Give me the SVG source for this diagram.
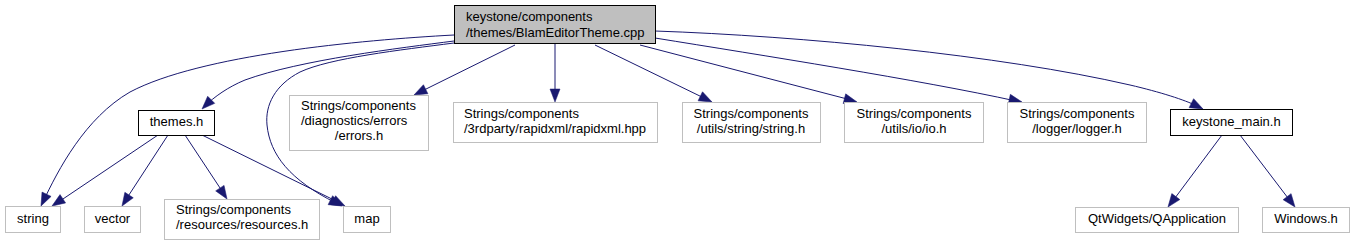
<svg xmlns="http://www.w3.org/2000/svg" xmlns:xlink="http://www.w3.org/1999/xlink" width="1355" height="245" viewBox="0 0 1355 245">
<style>
.n{fill:#ffffff;stroke:#bfbfbf;stroke-width:1}
.k{fill:#ffffff;stroke:#000000;stroke-width:1}
.r{fill:#bfbfbf;stroke:#000000;stroke-width:1}
text{font-family:"Liberation Sans",Arial,sans-serif;font-size:13px;fill:#000000}
.m{text-anchor:middle}
.e path{fill:none;stroke:#191970;stroke-width:1}
.e use{fill:#191970;stroke:#191970;stroke-width:0.5}
</style>
<defs>
<path id="ah" d="M0,0 L-13,-5 L-13,5 z"/>
</defs>
<rect x="0" y="0" width="1355" height="245" fill="#ffffff"/>
<g class="e" id="edges">
<path d="M454,35 C360,40 200,55 130,92 C85,118 58,170 43,202"/>
<use xlink:href="#ah" href="#ah" transform="translate(41,206) rotate(115.3)"/>
<path d="M454,41 C400,48 300,60 245,80 C228,87 214,97 205,106"/>
<use xlink:href="#ah" href="#ah" transform="translate(202,109) rotate(135)"/>
<path d="M454,43 C400,50 330,58 300,72 C275,85 265,105 267,125 C270,155 290,180 336,203"/>
<use xlink:href="#ah" href="#ah" transform="translate(342,206) rotate(26.6)"/>
<path d="M515,45 L420,92"/>
<use xlink:href="#ah" href="#ah" transform="translate(414,95) rotate(153.7)"/>
<path d="M555,43 L555,96"/>
<use xlink:href="#ah" href="#ah" transform="translate(555,102) rotate(90)"/>
<path d="M595,45 L706,99"/>
<use xlink:href="#ah" href="#ah" transform="translate(712,102) rotate(26)"/>
<path d="M640,45 L851,100"/>
<use xlink:href="#ah" href="#ah" transform="translate(857,102) rotate(14.7)"/>
<path d="M655,38 C760,55 920,80 1016,101"/>
<use xlink:href="#ah" href="#ah" transform="translate(1022,102) rotate(12.2)"/>
<path d="M655,31 C800,36 1000,55 1130,85 C1160,92 1185,100 1197,106"/>
<use xlink:href="#ah" href="#ah" transform="translate(1203,109) rotate(26.6)"/>
<path d="M158,135 L57,203"/>
<use xlink:href="#ah" href="#ah" transform="translate(52,206) rotate(146.2)"/>
<path d="M168,135 L125,201"/>
<use xlink:href="#ah" href="#ah" transform="translate(122,206) rotate(122.9)"/>
<path d="M185,135 L224,194"/>
<use xlink:href="#ah" href="#ah" transform="translate(227,199) rotate(56.7)"/>
<path d="M202,135 L340,203"/>
<use xlink:href="#ah" href="#ah" transform="translate(345,206) rotate(26.4)"/>
<path d="M1222,135 L1172,202"/>
<use xlink:href="#ah" href="#ah" transform="translate(1168,207) rotate(126.9)"/>
<path d="M1240,135 L1291,202"/>
<use xlink:href="#ah" href="#ah" transform="translate(1295,207) rotate(52.6)"/>
</g>
<g id="root">
<rect class="r" x="454.5" y="5.5" width="201" height="38"/>
<text x="466" y="21">keystone/components</text>
<text x="466" y="37">/themes/BlamEditorTheme.cpp</text>
</g>
<g id="themes_h">
<rect class="k" x="138.5" y="110.5" width="76" height="25"/>
<text class="m" x="176.5" y="126">themes.h</text>
</g>
<g id="errors_h">
<rect class="n" x="289.5" y="95.5" width="139" height="55"/>
<text x="301" y="110">Strings/components</text>
<text x="301" y="125">/diagnostics/errors</text>
<text class="m" x="359" y="140">/errors.h</text>
</g>
<g id="rapidxml_hpp">
<rect class="n" x="453.5" y="102.5" width="204" height="40"/>
<text x="464" y="118">Strings/components</text>
<text x="464" y="133">/3rdparty/rapidxml/rapidxml.hpp</text>
</g>
<g id="string_h">
<rect class="n" x="682.5" y="102.5" width="138" height="40"/>
<text class="m" x="751" y="118">Strings/components</text>
<text class="m" x="751" y="133">/utils/string/string.h</text>
</g>
<g id="io_h">
<rect class="n" x="844.5" y="102.5" width="139" height="40"/>
<text class="m" x="914" y="118">Strings/components</text>
<text class="m" x="914" y="133">/utils/io/io.h</text>
</g>
<g id="logger_h">
<rect class="n" x="1007.5" y="102.5" width="139" height="40"/>
<text class="m" x="1077" y="118">Strings/components</text>
<text class="m" x="1077" y="133">/logger/logger.h</text>
</g>
<g id="keystone_main_h">
<rect class="k" x="1170.5" y="109.5" width="122" height="26"/>
<text class="m" x="1231.5" y="126">keystone_main.h</text>
</g>
<g id="string">
<rect class="n" x="5.5" y="206.5" width="55" height="26"/>
<text class="m" x="33" y="223">string</text>
</g>
<g id="vector">
<rect class="n" x="84.5" y="206.5" width="56" height="26"/>
<text class="m" x="112.5" y="223">vector</text>
</g>
<g id="resources_h">
<rect class="n" x="164.5" y="199.5" width="155" height="40"/>
<text x="176" y="214">Strings/components</text>
<text x="176" y="229">/resources/resources.h</text>
</g>
<g id="map">
<rect class="n" x="343.5" y="206.5" width="47" height="26"/>
<text class="m" x="367" y="223">map</text>
</g>
<g id="qapplication">
<rect class="n" x="1075.5" y="207.5" width="163" height="25"/>
<text class="m" x="1157" y="223">QtWidgets/QApplication</text>
</g>
<g id="windows_h">
<rect class="n" x="1262.5" y="207.5" width="87" height="25"/>
<text class="m" x="1306" y="223">Windows.h</text>
</g>
</svg>
